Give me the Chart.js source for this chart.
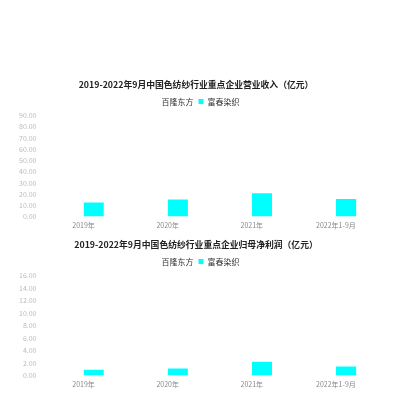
<!DOCTYPE html>
<html>
<head>
<meta charset="utf-8">
<script src="https://cdn.jsdelivr.net/npm/chart.js@4"></script>
<style>
  body { margin: 0; background: #fff; }
  .box { position: absolute; left: 0; width: 400px; }
</style>
</head>
<body>
<div class="box" style="top:71px;height:165px"><canvas id="revenue"></canvas></div>
<div class="box" style="top:231px;height:164px"><canvas id="profit"></canvas></div>
<script>
const categories = ["2019年", "2020年", "2021年", "2022年1-9月"];
const companies = ["百隆东方", "富春染织"];

// 营业收入（亿元）
const bailongRevenue = [57.9, 56.6, 69.9, 52.8];
const fuchunRevenue = [12.6, 15.2, 20.9, 15.6];

// 归母净利润（亿元）
const bailongProfit = [5.8, 3.1, 11.3, 13.9];
const fuchunProfit = [0.95, 1.15, 2.2, 1.45];

const revenueTitle = "2019-2022年9月中国色纺纱行业重点企业营业收入（亿元）";
const profitTitle = "2019-2022年9月中国色纺纱行业重点企业归母净利润（亿元）";

const fontFamily = "'Noto Sans CJK SC', 'DejaVu Sans', sans-serif";

function makeChart(id, title, first, second, yMax, step) {
    const ctx = document.getElementById(id).getContext("2d");
    return new Chart(ctx, {
        type: "bar",
        data: {
            labels: categories,
            datasets: [
                { label: companies[0], data: first, backgroundColor: "#ffffff", borderColor: "#ffffff" },
                { label: companies[1], data: second, backgroundColor: "#00ffff", borderColor: "#00ffff" }
            ]
        },
        options: {
            responsive: true,
            maintainAspectRatio: false,
            animation: false,
            layout: { padding: { left: 14, right: 22, top: 4, bottom: 1 } },
            datasets: { bar: { categoryPercentage: 0.48, barPercentage: 1 } },
            plugins: {
                title: {
                    display: true,
                    text: title,
                    color: "#222",
                    font: { family: fontFamily, size: 8.8, weight: "bold" },
                    padding: { top: 4, bottom: 3 }
                },
                legend: {
                    labels: {
                        boxWidth: 5,
                        boxHeight: 5,
                        color: "#333",
                        padding: 5,
                        font: { family: fontFamily, size: 8 }
                    }
                },
                tooltip: { enabled: false }
            },
            scales: {
                x: {
                    grid: { display: false, drawTicks: false, tickLength: 0 },
                    border: { display: false },
                    ticks: { color: "#888", font: { family: fontFamily, size: 7 }, padding: 5, maxRotation: 0 }
                },
                y: {
                    min: 0,
                    max: yMax,
                    grid: { display: false, drawTicks: false, tickLength: 0 },
                    border: { display: false },
                    ticks: {
                        stepSize: step,
                        autoSkip: false,
                        color: "#bbb",
                        padding: 5,
                        font: { family: fontFamily, size: 7 },
                        callback: v => v.toFixed(2)
                    }
                }
            }
        }
    });
}

makeChart("revenue", revenueTitle, bailongRevenue, fuchunRevenue, 90, 10);
makeChart("profit", profitTitle, bailongProfit, fuchunProfit, 16, 2);
</script>
</body>
</html>
